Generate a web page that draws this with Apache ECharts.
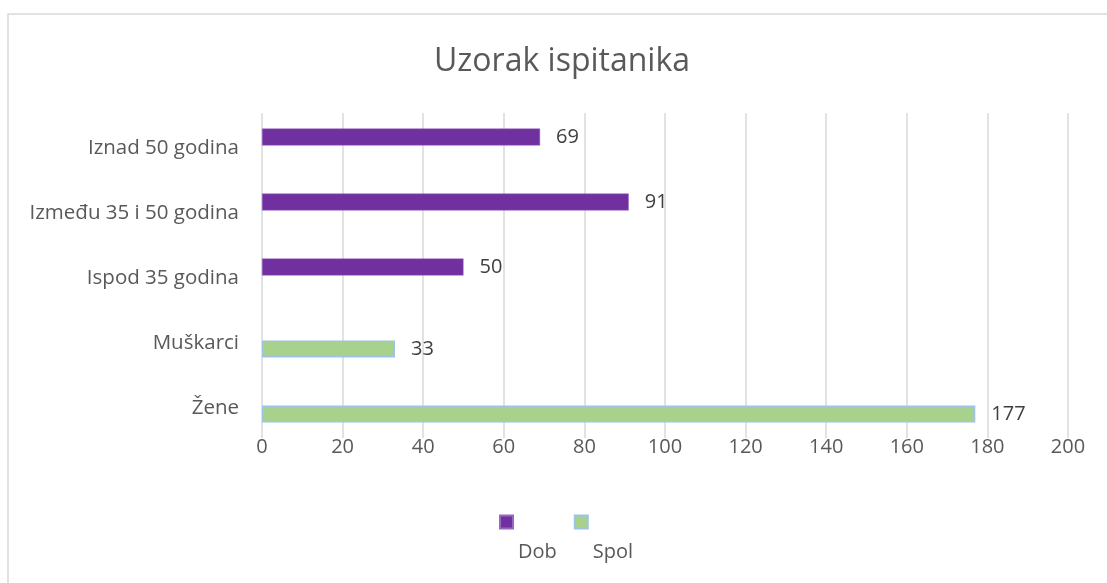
<!DOCTYPE html>
<html>
<head>
<meta charset="utf-8">
<title>Uzorak ispitanika</title>
<script src="https://cdn.jsdelivr.net/npm/echarts@6/dist/echarts.min.js"></script>
<style>
  html, body { margin: 0; padding: 0; background: #fff; }
  #chart { width: 1107px; height: 583px; }
</style>
</head>
<body>
<div id="chart"></div>
<script>
// kategorije (odozdo prema gore)
const categories = ['Žene', 'Muškarci', 'Ispod 35 godina', 'Između 35 i 50 godina', 'Iznad 50 godina']
const dobValues = [null, null, 50, 91, 69]
const spolValues = [177, 33, null, null, null]
const xTicks = { min: 0, max: 200, interval: 20 }

const font = 'Open Sans'
const chart = echarts.init(document.getElementById('chart'))

const option = {
  backgroundColor: '#fff',
  textStyle: { fontFamily: font },
  graphic: [
    {
      type: 'rect',
      shape: { x: 8, y: 14, width: 1200, height: 700 },
      style: { fill: 'none', stroke: '#d9d9d9', lineWidth: 1.5 },
      silent: true
    }
  ],
  title: {
    text: 'Uzorak ispitanika',
    left: 434,
    top: 46,
    padding: 0,
    textStyle: { fontFamily: font, fontSize: 32, fontWeight: 'normal', color: '#595959' }
  },
  // tekst legende ispod ikone (kao u Excelu)
  legend: {
    left: 499,
    top: 462,
    padding: 0,
    icon: 'rect',
    itemWidth: 13,
    itemHeight: 13,
    itemGap: 17,
    data: ['Dob', 'Spol'],
    formatter: name => '\n' + name,
    textStyle: { fontFamily: font, fontSize: 20, color: '#595959', lineHeight: 60 }
  },
  grid: { left: 262, right: 39, top: 113, bottom: 145 },
  xAxis: {
    type: 'value',
    min: xTicks.min,
    max: xTicks.max,
    interval: xTicks.interval,
    axisLine: { show: false },
    axisTick: { show: false },
    axisLabel: { color: '#595959', fontSize: 20, margin: -1 },
    splitLine: { lineStyle: { color: '#d9d9d9', width: 1.5 } }
  },
  yAxis: {
    type: 'category',
    data: categories,
    axisLine: { show: false },
    axisTick: { show: false },
    axisLabel: {
      color: '#595959',
      fontSize: 20.5,
      margin: 23,
      formatter: v => '{c|' + v + '}',
      rich: { c: { fontFamily: font, fontSize: 20.5, color: '#595959', padding: [6, 0, 0, 0] } }
    }
  },
  series: [
    {
      name: 'Dob',
      type: 'bar',
      data: dobValues,
      barWidth: 17,
      barGap: '0%',
      itemStyle: { color: '#7030a0', borderColor: '#9966c2', borderWidth: 0.5 },
      label: { show: true, position: 'right', distance: 16, color: '#404040', fontSize: 20 }
    },
    {
      name: 'Spol',
      type: 'bar',
      data: spolValues,
      barWidth: 17,
      barGap: '0%',
      itemStyle: { color: '#a9d18e', borderColor: '#9dc3e6', borderWidth: 1.5 },
      label: { show: true, position: 'right', distance: 16, color: '#404040', fontSize: 20 }
    }
  ]
}

chart.setOption(option)
</script>
</body>
</html>
